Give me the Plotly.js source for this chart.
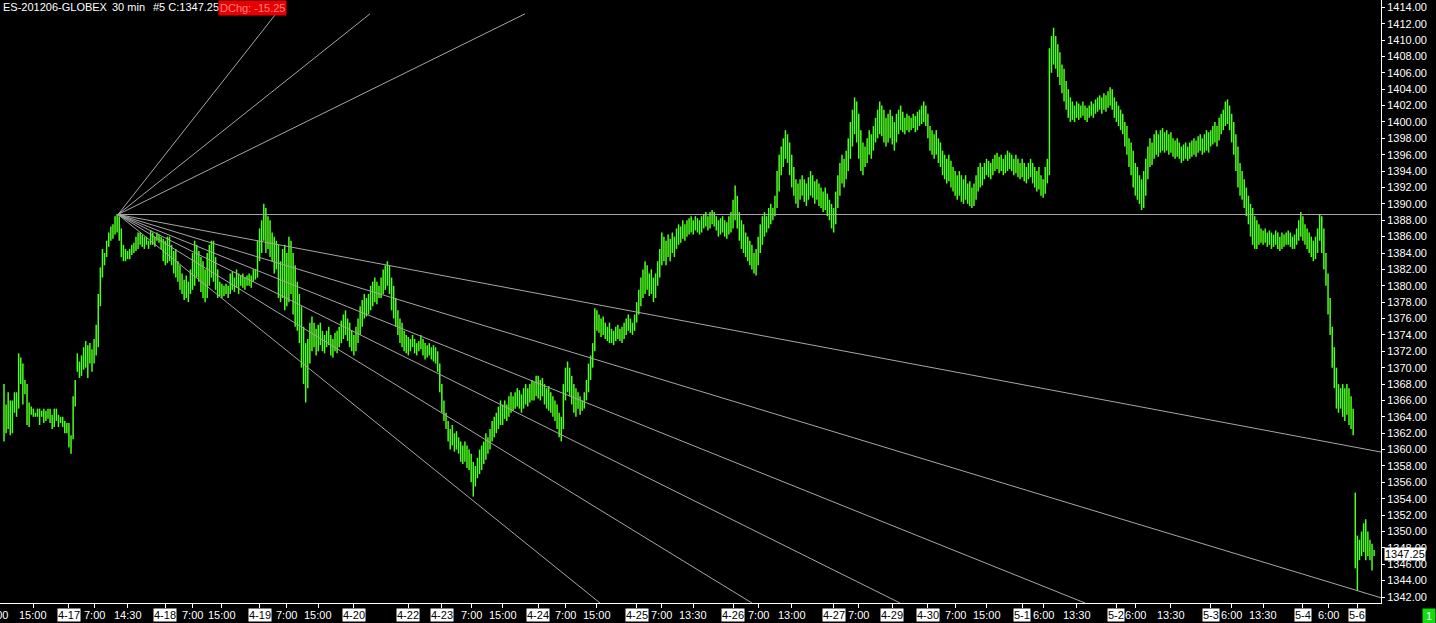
<!DOCTYPE html>
<html><head><meta charset="utf-8">
<script src="https://cdn.plot.ly/plotly-3.0.1.min.js"></script>
<style>html,body{margin:0;padding:0;background:#000;overflow:hidden}#chart{width:1436px;height:623px}</style>
</head><body><div id="chart"></div>
<script>
// ---- Data: 30-min bar highs / lows (ES-201206-GLOBEX) ----
const high = [
1368.0,1365.5,1367.0,1366.0,1366.0,1367.0,1367.0,1371.75,1371.25,1370.5,
1368.5,1368.0,1365.75,1365.25,1365.0,1364.5,1365.0,1365.0,1364.75,1365.0,
1364.75,1365.0,1365.0,1364.25,1365.0,1365.0,1364.25,1364.0,1364.0,1363.5,
1363.25,1363.25,1361.75,1366.5,1368.5,1371.75,1370.75,1371.5,1372.5,1373.25,
1372.75,1373.0,1372.25,1373.5,1375.25,1379.0,1382.25,1384.5,1384.0,1385.5,
1386.5,1387.25,1387.5,1388.5,1388.75,1388.5,1387.0,1385.0,1384.5,1384.25,
1384.5,1385.0,1385.25,1386.0,1386.5,1386.5,1386.25,1386.0,1386.0,1385.5,
1386.75,1386.5,1386.0,1386.5,1386.25,1386.0,1385.75,1385.5,1386.0,1386.0,
1385.0,1384.25,1384.5,1383.0,1382.5,1381.5,1380.75,1381.25,1380.5,1382.0,
1384.0,1385.5,1385.0,1384.25,1383.5,1383.0,1382.0,1384.0,1385.0,1385.5,
1385.5,1383.5,1382.0,1380.5,1380.25,1380.0,1380.25,1380.0,1381.5,1381.75,
1381.0,1382.0,1381.5,1381.25,1381.5,1381.0,1381.25,1381.5,1381.25,1382.0,
1382.0,1385.5,1387.0,1388.0,1390.0,1389.5,1388.5,1388.0,1386.5,1386.0,
1385.5,1385.0,1383.0,1384.5,1385.0,1384.0,1386.0,1385.5,1384.0,1382.5,
1380.5,1379.0,1377.5,1375.0,1373.0,1373.5,1375.5,1376.25,1375.5,1374.75,
1375.25,1375.5,1374.5,1374.0,1374.5,1375.0,1374.0,1373.5,1374.25,1374.5,
1375.0,1375.75,1376.5,1377.0,1376.0,1375.5,1374.5,1374.0,1375.0,1376.0,
1377.5,1378.25,1379.0,1378.5,1379.0,1380.0,1380.5,1381.0,1380.5,1380.0,
1381.0,1382.0,1382.5,1383.0,1382.5,1381.0,1380.0,1378.5,1377.0,1376.0,
1375.5,1374.5,1374.0,1373.75,1373.5,1374.0,1373.5,1373.0,1373.25,1374.0,
1373.5,1373.0,1372.75,1373.0,1372.5,1372.75,1372.5,1372.0,1370.5,1368.0,
1366.0,1364.5,1363.5,1362.5,1363.0,1362.0,1362.25,1361.5,1361.0,1360.5,
1361.0,1360.5,1360.0,1359.5,1358.5,1358.0,1359.0,1360.0,1360.5,1361.0,
1362.0,1361.5,1362.5,1363.5,1364.0,1364.5,1365.25,1366.0,1365.5,1366.0,
1365.5,1366.5,1367.0,1366.5,1367.0,1367.5,1367.25,1366.75,1367.5,1368.0,
1367.5,1368.0,1368.5,1368.25,1369.0,1369.0,1368.5,1368.75,1368.0,1367.5,
1367.75,1367.0,1366.5,1366.0,1365.5,1364.5,1364.0,1368.0,1370.0,1370.75,
1370.0,1369.0,1368.0,1367.5,1367.0,1366.5,1366.0,1367.0,1368.5,1370.5,
1371.5,1373.0,1377.25,1377.0,1376.5,1376.0,1376.25,1375.5,1375.0,1375.5,
1374.75,1374.5,1375.0,1375.25,1374.75,1375.0,1375.5,1376.0,1376.5,1376.0,
1375.5,1376.5,1378.0,1379.5,1381.0,1382.0,1383.0,1382.5,1381.5,1382.0,
1381.0,1381.5,1383.0,1384.5,1386.5,1386.0,1385.5,1386.25,1385.75,1386.5,
1386.0,1387.0,1387.5,1387.25,1388.0,1387.5,1388.0,1388.25,1388.5,1388.0,
1388.5,1388.25,1388.0,1388.5,1388.75,1389.0,1388.5,1389.0,1389.25,1389.0,
1388.5,1388.0,1388.25,1388.5,1388.0,1387.75,1388.5,1389.0,1390.5,1392.25,
1391.0,1389.0,1388.0,1387.5,1386.5,1386.0,1385.5,1385.0,1384.0,1384.5,
1386.0,1387.5,1388.5,1389.0,1388.5,1389.5,1390.0,1389.5,1391.0,1394.0,
1396.0,1397.0,1398.0,1399.0,1398.5,1397.5,1396.0,1394.5,1393.0,1392.5,
1393.0,1393.5,1393.0,1392.5,1393.25,1394.0,1393.5,1392.75,1393.0,1392.5,
1392.0,1391.5,1392.0,1391.25,1390.5,1390.0,1389.5,1391.5,1393.5,1395.0,
1396.0,1395.5,1396.5,1398.0,1400.0,1401.5,1403.0,1402.5,1401.0,1399.0,
1397.5,1397.0,1398.0,1399.0,1398.5,1399.5,1400.5,1401.5,1402.5,1402.0,
1401.5,1400.5,1401.0,1401.5,1400.75,1400.0,1401.0,1401.5,1402.0,1401.25,
1400.5,1401.0,1400.75,1400.5,1401.0,1400.75,1401.25,1401.5,1402.0,1402.5,
1402.0,1401.0,1399.5,1399.0,1398.5,1399.0,1398.0,1397.5,1396.5,1396.0,
1395.5,1396.0,1395.25,1394.5,1394.0,1393.5,1394.0,1393.5,1393.0,1393.5,
1392.5,1392.75,1392.0,1392.5,1393.5,1394.5,1395.0,1394.5,1395.0,1395.5,
1395.25,1395.0,1395.5,1396.0,1396.25,1395.75,1396.0,1395.5,1396.0,1396.5,
1396.25,1396.0,1395.5,1396.0,1395.5,1395.0,1395.5,1395.0,1394.5,1395.0,
1395.5,1395.0,1394.5,1394.0,1394.5,1393.5,1393.0,1394.5,1395.5,1409.0,
1410.5,1411.5,1410.5,1409.5,1408.5,1407.0,1406.5,1405.0,1404.0,1403.0,
1402.5,1402.0,1402.5,1402.25,1402.0,1402.5,1402.0,1401.75,1402.0,1402.5,
1402.25,1402.75,1403.0,1403.25,1403.0,1403.5,1403.25,1403.75,1404.25,1404.0,
1403.0,1402.5,1402.0,1401.5,1401.0,1400.0,1399.5,1398.0,1397.5,1396.5,
1395.0,1394.5,1393.5,1393.0,1394.0,1395.5,1397.0,1398.0,1397.5,1398.5,
1399.0,1398.5,1399.0,1399.25,1398.75,1399.0,1398.5,1398.75,1398.0,1397.75,
1398.0,1397.5,1397.0,1397.25,1397.5,1397.0,1397.5,1397.75,1398.0,1397.75,
1398.25,1398.5,1398.0,1398.5,1399.0,1398.75,1399.0,1399.5,1400.0,1399.5,
1400.5,1401.0,1401.5,1402.5,1402.75,1402.0,1401.0,1400.0,1398.5,1397.0,
1395.0,1394.0,1393.0,1392.0,1391.0,1390.0,1389.5,1388.5,1388.0,1387.5,
1387.0,1386.75,1387.0,1386.5,1386.75,1386.5,1386.25,1386.75,1386.5,1386.0,
1386.5,1386.25,1386.5,1386.75,1386.5,1386.0,1386.25,1387.0,1388.0,1389.0,
1388.5,1387.5,1387.0,1386.5,1386.0,1385.5,1386.0,1387.0,1388.75,1388.5,
1387.0,1384.0,1381.5,1378.5,1375.0,1372.5,1370.0,1368.0,1367.5,1368.0,
1367.5,1368.0,1367.5,1366.5,1365.0,1354.75,1349.5,1349.0,1350.0,1351.0,
1351.5,1350.0,1349.0,1348.5,1347.75
];
const low = [
1361.0,1362.0,1362.5,1361.75,1362.0,1364.5,1364.0,1365.0,1368.0,1365.5,
1366.75,1363.0,1362.75,1364.25,1364.0,1364.0,1364.0,1363.0,1364.0,1363.25,
1363.5,1363.75,1363.25,1362.5,1362.75,1363.5,1362.75,1363.25,1362.75,1362.0,
1362.0,1360.25,1359.5,1361.25,1365.25,1369.5,1368.75,1369.0,1369.75,1370.0,
1368.75,1370.5,1369.5,1370.5,1371.5,1372.5,1377.5,1381.0,1382.5,1383.5,
1384.75,1385.5,1385.75,1386.25,1386.5,1385.5,1383.5,1383.0,1383.0,1383.25,
1383.25,1383.75,1384.0,1384.25,1384.5,1385.0,1384.75,1384.5,1385.0,1384.5,
1385.0,1385.0,1384.75,1385.5,1385.25,1384.5,1383.0,1382.5,1382.75,1383.0,
1382.5,1381.5,1381.0,1380.5,1379.5,1379.0,1378.25,1378.5,1378.0,1379.0,
1379.5,1380.0,1381.0,1380.5,1379.25,1378.5,1378.0,1378.5,1380.0,1381.0,
1380.5,1379.5,1378.5,1378.75,1378.5,1378.75,1379.0,1378.5,1379.0,1379.5,
1379.25,1379.75,1379.0,1380.0,1379.75,1379.5,1380.0,1380.0,1379.75,1380.5,
1380.75,1381.0,1383.0,1384.0,1385.5,1384.0,1384.5,1383.5,1383.0,1381.5,
1382.0,1378.5,1378.0,1378.5,1377.0,1377.5,1378.0,1379.0,1376.5,1375.0,
1374.5,1373.0,1370.0,1368.0,1365.75,1367.5,1370.5,1372.0,1372.5,1371.5,
1372.0,1372.75,1372.0,1371.75,1372.5,1372.75,1371.5,1371.25,1372.0,1371.75,
1372.5,1373.0,1373.5,1374.0,1373.25,1372.5,1372.0,1371.5,1372.0,1373.0,
1374.0,1375.0,1376.0,1376.25,1376.5,1377.0,1377.5,1378.0,1377.75,1378.5,
1378.5,1379.0,1379.5,1380.0,1379.0,1377.0,1376.0,1375.0,1374.0,1373.0,
1372.5,1372.0,1371.75,1371.5,1372.0,1372.5,1371.75,1371.5,1372.0,1372.25,
1371.5,1371.0,1371.25,1371.5,1371.0,1370.75,1370.5,1369.5,1367.0,1364.5,
1363.5,1362.5,1361.0,1360.0,1360.5,1359.75,1360.0,1359.5,1358.5,1358.25,
1358.5,1357.75,1357.5,1356.0,1354.25,1355.5,1356.5,1357.0,1357.5,1358.25,
1358.75,1359.5,1360.0,1361.0,1361.5,1362.0,1362.5,1363.0,1363.0,1363.75,
1363.5,1364.0,1364.5,1364.75,1365.0,1365.25,1365.0,1364.5,1365.0,1365.5,
1365.25,1365.75,1366.0,1366.0,1366.5,1366.25,1366.0,1366.5,1365.5,1365.0,
1364.75,1364.5,1364.0,1363.5,1362.5,1361.5,1361.0,1362.5,1366.0,1367.0,
1366.5,1365.5,1364.5,1364.0,1365.0,1364.25,1364.75,1365.0,1366.0,1367.0,
1368.5,1370.0,1372.0,1374.5,1374.25,1373.75,1374.0,1373.5,1373.25,1373.0,
1373.0,1372.75,1373.25,1373.5,1373.25,1373.0,1373.5,1374.0,1374.5,1374.25,
1374.0,1374.5,1375.5,1376.5,1377.5,1378.5,1379.0,1379.5,1378.75,1379.0,
1378.0,1378.5,1380.0,1381.0,1382.5,1383.0,1382.5,1383.5,1383.0,1384.0,
1383.5,1384.5,1385.0,1385.25,1385.75,1385.5,1386.0,1386.25,1386.5,1386.25,
1386.75,1386.5,1386.25,1386.5,1387.0,1387.25,1386.75,1387.0,1387.5,1387.25,
1386.75,1386.0,1386.25,1386.5,1386.0,1385.75,1386.25,1386.5,1387.0,1388.0,
1387.0,1385.5,1384.5,1384.0,1383.5,1383.0,1382.5,1382.0,1381.5,1381.25,
1382.5,1384.0,1385.0,1386.0,1386.5,1387.0,1387.5,1388.0,1388.5,1389.5,
1391.5,1393.5,1394.5,1395.5,1395.0,1393.5,1392.0,1391.0,1390.0,1389.5,
1390.5,1391.0,1390.25,1389.75,1390.5,1391.0,1390.75,1390.0,1390.5,1389.75,
1389.5,1389.0,1389.25,1388.5,1388.0,1387.0,1386.5,1387.5,1389.5,1391.0,
1392.5,1392.0,1393.0,1394.0,1395.5,1397.0,1398.5,1397.5,1395.5,1394.0,
1393.5,1394.5,1395.0,1396.0,1395.5,1396.5,1397.5,1398.0,1398.5,1398.25,
1397.5,1397.0,1397.5,1398.0,1397.25,1396.5,1397.5,1398.5,1399.0,1398.75,
1398.5,1399.0,1398.75,1399.0,1399.25,1398.75,1399.0,1399.5,1399.75,1400.0,
1399.5,1398.0,1396.5,1396.0,1395.5,1396.0,1395.0,1394.5,1393.5,1393.0,
1392.5,1392.75,1392.0,1391.5,1391.0,1390.5,1391.0,1390.25,1390.0,1390.5,
1390.0,1389.75,1389.5,1389.75,1390.5,1391.5,1392.0,1392.25,1393.0,1393.5,
1393.25,1393.0,1393.5,1394.0,1394.25,1393.75,1394.0,1393.5,1393.75,1394.0,
1394.25,1394.0,1393.5,1393.75,1393.25,1393.0,1393.25,1392.75,1392.5,1393.0,
1393.25,1392.5,1392.0,1391.5,1391.75,1391.0,1390.75,1391.25,1392.5,1393.5,
1406.0,1407.0,1406.5,1405.5,1404.5,1403.5,1402.5,1401.5,1400.5,1400.0,
1400.25,1400.0,1400.5,1400.25,1400.5,1400.75,1400.25,1400.0,1400.5,1400.75,
1400.5,1401.0,1401.25,1401.5,1401.0,1401.5,1401.25,1401.75,1402.0,1401.5,
1400.5,1400.0,1399.5,1399.0,1398.5,1397.0,1396.0,1394.5,1393.5,1392.0,
1391.0,1390.5,1390.0,1389.25,1389.5,1391.0,1393.0,1394.5,1394.75,1395.5,
1396.0,1395.75,1396.25,1396.5,1396.25,1396.5,1396.0,1396.25,1395.75,1395.5,
1395.75,1395.5,1395.0,1395.25,1395.5,1395.25,1395.5,1395.75,1396.0,1395.75,
1396.25,1396.5,1396.0,1396.25,1396.5,1396.25,1397.0,1397.25,1397.5,1397.0,
1397.75,1398.5,1399.0,1399.5,1399.75,1399.0,1397.5,1396.0,1394.0,1392.0,
1391.0,1390.5,1389.5,1388.5,1387.5,1386.0,1385.0,1384.5,1384.5,1385.0,
1385.25,1385.0,1385.25,1384.75,1385.0,1384.5,1384.75,1385.0,1384.5,1384.25,
1384.5,1384.75,1385.0,1385.0,1384.75,1384.5,1384.5,1385.0,1385.5,1386.0,
1385.5,1385.0,1384.5,1384.0,1383.5,1383.0,1383.25,1384.0,1385.5,1384.0,
1382.0,1380.0,1376.5,1374.0,1370.0,1367.5,1365.0,1364.5,1365.0,1364.0,
1363.5,1364.25,1363.0,1362.5,1361.75,1345.5,1342.75,1346.5,1347.0,1347.5,
1346.5,1347.0,1346.5,1345.25,1347.0
];

// ---- Time axis labels (bar index where the label sits) ----
const xLabelBars = [-3,14,31,43,59,77,90,104,122,135,150,167,193,209,223,238,255,268,283,302,314,329,348,360,376,396,408,424,441,454,469,486,496,512,531,540,557,576,586,601,620,632,646];
const xLabelText = ['7:00','15:00','4-17','7:00','14:30','4-18','7:00','15:00','4-19','7:00','15:00','4-20','4-22','4-23','7:00','15:00','4-24','7:00','15:00','4-25','7:00','13:30','4-26','7:00','13:00','4-27','7:00','4-29','4-30','7:00','15:00','5-1','6:00','13:30','5-2','6:00','13:30','5-3','6:00','13:30','5-4','6:00','5-6'];

// ---- Fan drawing tool (bar index, price) ----
const fanPivotBar = 54.4, fanPivotPrice = 1388.7;
const fanEndBar   = [129.8, 174.7, 248.7, 657.3, 657.3, 657.3, 516.0, 427.7, 357.0, 284.5];
const fanEndPrice = [1413.2,1413.2,1413.2,1388.7,1359.7,1341.9,1341.27,1341.27,1341.27,1341.27];

// ---- Header texts ----
const symbolText = 'ES-201206-GLOBEX';
const periodText = '30 min';
const closeText = '#5 C:1347.25';
const chgText = 'DChg: -15.25';
const lastPrice = 1347.25;

const X0 = -1.909, X1 = 657.28;
const FONT = 'Liberation Sans, Arial, sans-serif';

const bx = [], by = [];
for (let i = 0; i < high.length; i++) { bx.push(i, i, null); by.push(low[i], high[i], null); }

const traces = [{
  type: 'scatter', mode: 'lines', x: bx, y: by,
  line: {color: '#4cff1c', width: 1.5}, hoverinfo: 'skip', connectgaps: false
}];

const shapes = fanEndBar.map((b, k) => ({
  type: 'line', xref: 'x', yref: 'y', layer: 'above',
  x0: fanPivotBar, y0: fanPivotPrice, x1: b, y1: fanEndPrice[k],
  line: {color: '#a6a6a6', width: 1}
}));

const toPaper = b => (b - X0) / (X1 - X0);
const annotations = xLabelText.map((t, k) => {
  const isDate = t.indexOf('-') >= 0;
  return {
    xref: 'paper', yref: 'paper', x: toPaper(xLabelBars[k]), y: 0,
    xanchor: 'center', yanchor: 'middle', yshift: -11.5, showarrow: false,
    text: t, font: {family: FONT, size: 11, color: isDate ? '#000' : '#fff'},
    bgcolor: isDate ? '#fff' : 'rgba(0,0,0,0)', borderpad: 0
  };
});
const hdr = (txt, px, opts) => Object.assign({
  xref: 'paper', yref: 'paper', x: px / 1381, y: 1, xanchor: 'left', yanchor: 'top',
  showarrow: false, text: txt, font: {family: FONT, size: 11, color: '#fff'}, borderpad: 0
}, opts || {});
annotations.push(hdr(symbolText, 2));
annotations.push(hdr(periodText, 111));
annotations.push(hdr(closeText, 152));
annotations.push(hdr(chgText, 218, {bgcolor: '#e80000', font: {family: FONT, size: 11, color: '#ff8080'}, borderpad: 1}));
annotations.push({
  xref: 'paper', yref: 'y', x: 1, y: lastPrice, xanchor: 'left', yanchor: 'middle', xshift: 3,
  showarrow: false, text: lastPrice.toFixed(2), bgcolor: '#fff',
  font: {family: FONT, size: 11, color: '#000'}, borderpad: 0
});
annotations.push({
  xref: 'paper', yref: 'paper', x: 1429 / 1381, y: 0, xanchor: 'center', yanchor: 'middle', yshift: -12.5,
  showarrow: false, text: '1', bgcolor: '#11dd11', width: 10, height: 12,
  font: {family: FONT, size: 11, color: '#fff'}, borderpad: 1
});

const layout = {
  width: 1436, height: 623,
  paper_bgcolor: '#000', plot_bgcolor: '#000',
  margin: {l: 0, r: 55, t: 0, b: 20, pad: 0},
  showlegend: false,
  xaxis: {
    range: [X0, X1], showgrid: false, zeroline: false, showline: true,
    linecolor: '#fff', linewidth: 1, ticks: 'outside', ticklen: 4, tickcolor: '#fff',
    tickmode: 'array', tickvals: xLabelBars, showticklabels: false, fixedrange: true
  },
  yaxis: {
    side: 'right', range: [1341.27, 1414.89], showgrid: false, zeroline: false,
    showline: true, linecolor: '#fff', linewidth: 1, ticks: 'outside', ticklen: 3,
    tickcolor: '#fff', tickmode: 'linear', tick0: 1342, dtick: 2, tickformat: '.2f',
    tickfont: {family: FONT, size: 11, color: '#fff'}, fixedrange: true
  },
  shapes: shapes,
  annotations: annotations
};

Plotly.newPlot('chart', traces, layout, {displayModeBar: false, staticPlot: true});
</script>
</body></html>
